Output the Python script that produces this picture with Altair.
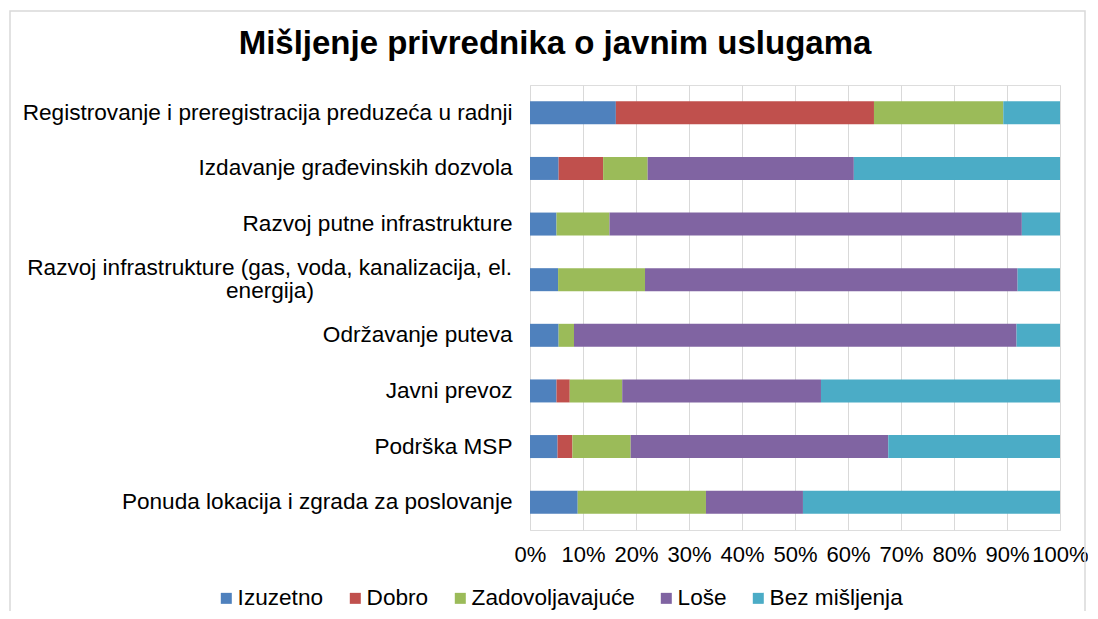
import altair as alt
import pandas as pd

categories = [
    "Registrovanje i preregistracija preduzeća u radnji",
    "Izdavanje građevinskih dozvola",
    "Razvoj  putne infrastrukture",
    "Razvoj infrastrukture (gas, voda, kanalizacija, el. energija)",
    "Održavanje puteva",
    "Javni prevoz",
    "Podrška MSP ",
    "Ponuda lokacija i zgrada za poslovanje",
]
wrapped_category = "Razvoj infrastrukture (gas, voda, kanalizacija, el. energija)"
wrapped_line1 = "Razvoj infrastrukture (gas, voda, kanalizacija, el."
wrapped_line2 = "energija)"

series = ["Izuzetno", "Dobro", "Zadovoljavajuće", "Loše", "Bez mišljenja"]
colors = ["#4F81BD", "#C0504D", "#9BBB59", "#8064A2", "#4BACC6"]

izuzetno = [16.2, 5.4, 5.0, 5.3, 5.4, 5.0, 5.2, 9.0]
dobro = [48.7, 8.4, 0.0, 0.0, 0.0, 2.5, 2.8, 0.0]
zadovoljavajuce = [24.4, 8.4, 10.0, 16.4, 2.9, 9.9, 11.0, 24.2]
lose = [0.0, 38.9, 77.8, 70.3, 83.5, 37.5, 48.6, 18.3]
bez_misljenja = [10.7, 38.9, 7.2, 8.0, 8.2, 45.1, 32.4, 48.5]

tick_values = [0, 0.1, 0.2, 0.3, 0.4, 0.5, 0.6, 0.7, 0.8, 0.9, 1.0]
title_text = "Mišljenje privrednika o javnim uslugama"

all_values = [izuzetno, dobro, zadovoljavajuce, lose, bez_misljenja]
rows = []
for si, (name, vals) in enumerate(zip(series, all_values)):
    for cat, v in zip(categories, vals):
        rows.append({"kategorija": cat, "ocena": name, "vrednost": v, "red": si})
df = pd.DataFrame(rows)

FONT = "Liberation Sans"
LBL = 22.6

label_expr = "datum.value == '" + wrapped_category + "' ? '' : datum.value"

y_enc = alt.Y(
    "kategorija:N",
    sort=categories,
    scale=alt.Scale(paddingInner=0, paddingOuter=0),
    axis=alt.Axis(
        title=None,
        domain=False,
        ticks=False,
        labelFont=FONT,
        labelFontSize=LBL,
        labelColor="#000000",
        labelPadding=18,
        labelLimit=600,
        labelExpr=label_expr,
    ),
)

bars = alt.Chart(df).mark_bar(size=23).encode(
    x=alt.X(
        "vrednost:Q",
        stack="normalize",
        scale=alt.Scale(domain=[0, 1]),
        axis=alt.Axis(
            values=tick_values,
            format=".0%",
            title=None,
            domain=False,
            ticks=False,
            grid=True,
            gridColor="#d9d9d9",
            labelFont=FONT,
            labelFontSize=22,
            labelColor="#000000",
            labelPadding=14,
            labelFlush=False,
            labelOverlap=False,
        ),
    ),
    y=y_enc,
    color=alt.Color(
        "ocena:N",
        sort=series,
        scale=alt.Scale(domain=series, range=colors),
        legend=alt.Legend(
            title=None,
            orient="none",
            direction="horizontal",
            legendX=-315,
            legendY=502,
            columns=5,
            columnPadding=20,
            symbolType="square",
            symbolSize=121,
            symbolStrokeWidth=0,
            labelOffset=0,
            labelLimit=400,
            labelFont=FONT,
            labelFontSize=LBL,
            labelColor="#000000",
            padding=0,
        ),
    ),
    order=alt.Order("red:Q"),
)

wrapped_df = pd.DataFrame({"kategorija": [wrapped_category], "r1": [wrapped_line1], "r2": [wrapped_line2]})

first_line = alt.Chart(wrapped_df).mark_text(
    font=FONT, fontSize=LBL, color="#000000", align="right", baseline="middle", dy=-11.5
).encode(
    y=alt.Y("kategorija:N", sort=categories),
    x=alt.value(-18),
    text="r1:N",
)

second_line = alt.Chart(wrapped_df).mark_text(
    font=FONT, fontSize=LBL, color="#000000", align="center", baseline="middle", dy=11.5
).encode(
    y=alt.Y("kategorija:N", sort=categories),
    x=alt.value(-260),
    text="r2:N",
)

title = alt.Chart(pd.DataFrame({"t": [title_text]})).mark_text(
    font=FONT, fontSize=33, fontWeight="bold", color="#000000",
    align="center", baseline="alphabetic",
).encode(
    x=alt.value(25),
    y=alt.value(-31),
    text="t:N",
)

frame = alt.Chart(pd.DataFrame({"f": [0]})).mark_rect(
    fill="transparent", stroke="#d9d9d9", strokeWidth=1.5
).encode(
    x=alt.value(-520),
    x2=alt.value(555),
    y=alt.value(-74),
    y2=alt.value(700),
)

chart = alt.layer(frame, bars, first_line, second_line, title).properties(
    width=530,
    height=445,
    autosize=alt.AutoSizeParams(type="none"),
    padding={"left": 522, "top": 77, "right": 28, "bottom": 81},
).configure_view(stroke=None).configure(background="white")

chart.save("out.html", embed_options={"renderer": "svg", "actions": False})
